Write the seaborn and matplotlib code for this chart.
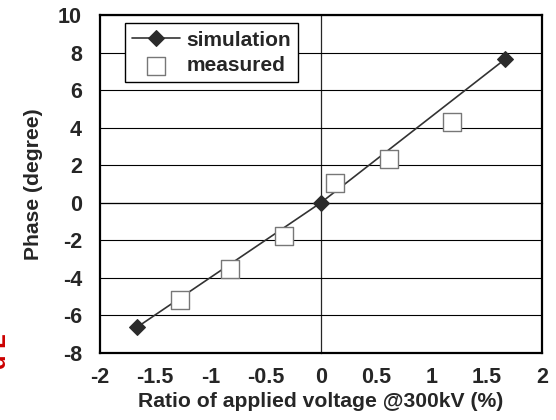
import matplotlib
matplotlib.use("Agg")
import matplotlib.pyplot as plt
import seaborn as sns
import numpy as np

sim_x = [-1.667, 0.0, 1.667]
sim_y = [-6.65, 0.0, 7.65]
meas_x = [-1.28, -0.82, -0.335, 0.13, 0.615, 1.19]
meas_y = [-5.2, -3.52, -1.8, 1.05, 2.31, 4.31]
x_ticks = [-2, -1.5, -1, -0.5, 0, 0.5, 1, 1.5, 2]
x_ticklabels = ["-2", "-1.5", "-1", "-0.5", "0", "0.5", "1", "1.5", "2"]
y_ticks = [-8, -6, -4, -2, 0, 2, 4, 6, 8, 10]
y_ticklabels = ["-8", "-6", "-4", "-2", "0", "2", "4", "6", "8", "10"]

sns.set_style("white")
plt.rcParams['font.family'] = ['Liberation Sans', 'DejaVu Sans']
plt.rcParams['font.weight'] = 'bold'

fig = plt.figure(figsize=(5.56, 4.20), dpi=100)
W, H = 556, 420
left, right, top, bottom = 100, 542, 15, 352.7
pos = [left / W, 1 - bottom / H, (right - left) / W, (bottom - top) / H]
ax = fig.add_axes(pos)

# gridlines
for yv in y_ticks:
    ax.axhline(yv, color='black', lw=0.8, zorder=1)

sns.lineplot(x=sim_x, y=sim_y, ax=ax, color='#333333', lw=1.2, marker='D',
             markersize=8, markerfacecolor='#2b2b2b', markeredgecolor='#2b2b2b',
             label='simulation', zorder=4)
sns.scatterplot(x=meas_x, y=meas_y, ax=ax, marker='s', s=160, facecolor='white',
                edgecolor='#777777', linewidth=1.0, label='measured', zorder=5)

ax.set_xlim(-2, 2)
ax.set_ylim(-8, 10)
ax.set_xticks(x_ticks)
ax.set_xticklabels(x_ticklabels)
ax.set_yticks(y_ticks)
ax.set_yticklabels(y_ticklabels)
ax.tick_params(axis='both', length=0, labelsize=15.5)
ax.tick_params(axis='x', pad=10)
ax.tick_params(axis='y', pad=13)
for lab in ax.get_xticklabels() + ax.get_yticklabels():
    lab.set_fontweight('bold')
for s in ax.spines.values():
    s.set_visible(True)
    s.set_color('black')
    s.set_linewidth(1.6)

ax.set_xlabel('Ratio of applied voltage @300kV (%)', fontsize=15.2, fontweight='bold', labelpad=3)
ax.set_ylabel('Phase (degree)', fontsize=15.2, fontweight='bold', labelpad=11)

leg = ax.legend(loc='upper left', bbox_to_anchor=(0.0566, 0.975), frameon=True,
                fancybox=False, edgecolor='black', framealpha=1, fontsize=15,
                handlelength=2.3, handletextpad=0.3, borderpad=0.35,
                labelspacing=0.3, borderaxespad=0)
leg.get_frame().set_linewidth(1.0)
for t in leg.get_texts():
    t.set_fontweight('bold')
leg.set_zorder(10)

# crossing axes at zero
ax2 = fig.add_axes(pos, sharex=ax, sharey=ax)
ax2.patch.set_alpha(0)
for k in ['top', 'right']:
    ax2.spines[k].set_visible(False)
ax2.spines['left'].set_position(('data', 0))
ax2.spines['bottom'].set_position(('data', 0))
ax2.spines['left'].set_linewidth(0.9)
ax2.spines['bottom'].set_linewidth(0.9)
ax2.tick_params(axis='both', direction='in', length=5, width=0.9,
                labelleft=False, labelbottom=False)
ax2.set_zorder(0.5)
ax.set_zorder(1)
ax.patch.set_alpha(0)

fig.text(0.0, 0.165, 'd L', rotation=90, color='#cc0000', fontsize=17,
         fontweight='bold', ha='center', va='center')

fig.savefig('out.png', dpi=100)
